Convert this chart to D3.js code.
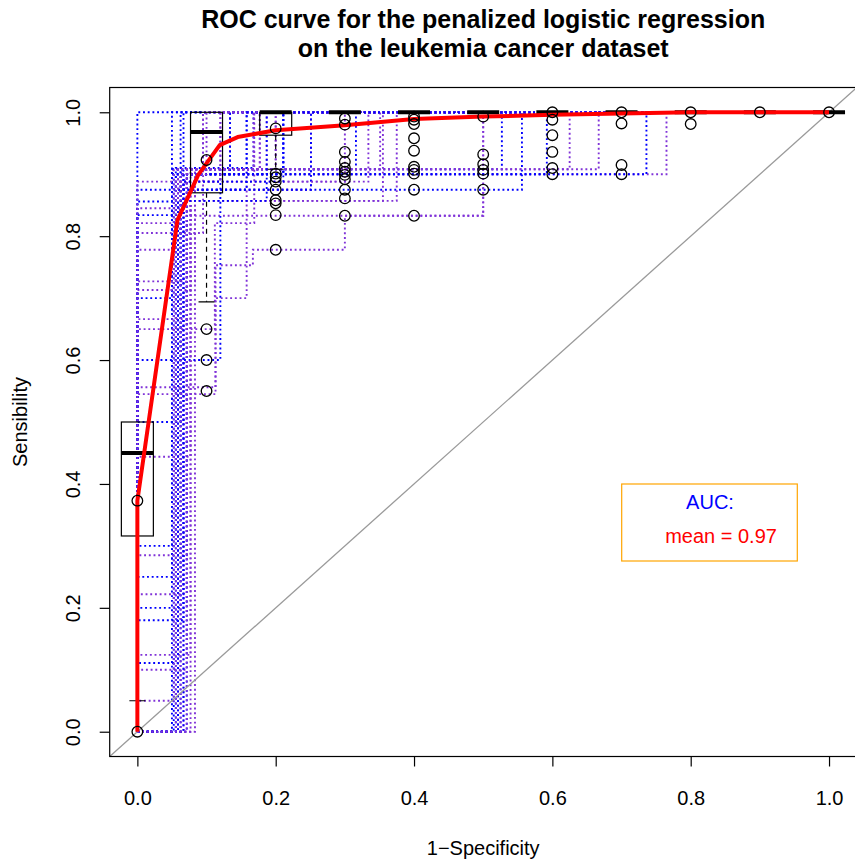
<!DOCTYPE html>
<html>
<head>
<meta charset="utf-8">
<script src="https://cdn.jsdelivr.net/npm/d3@7"></script>
<style>
  body { margin: 0; background: #fff; }
  svg { display: block; font-family: "Liberation Sans", Arial, sans-serif; }
</style>
</head>
<body>
<svg id="chart" width="855" height="862"></svg>
<script>
// individual cross-validation ROC curves: points where sensitivity rises, [fpr, sensitivity]
const curveSteps = [
  [[0, 1]],
  [[0.05, 1]],
  [[0.0833, 0.9], [0.187, 1]],
  [[0.0556, 0.91], [0.168, 1]],
  [[0, 0.1], [0.0714, 0.888], [0.334, 1]],
  [[0, 0.111], [0.0588, 0.875], [0.556, 1]],
  [[0, 0.124], [0.0769, 0.857], [0.375, 1]],
  [[0, 0.2], [0.0625, 0.908], [0.527, 1]],
  [[0, 0.222], [0.0667, 0.9], [0.765, 1]],
  [[0, 0.25], [0.05, 0.908], [0.316, 1]],
  [[0, 0.285], [0.0714, 0.833], [0.5, 1]],
  [[0, 0.3], [0.0556, 0.9], [0.211, 1]],
  [[0, 0.444], [0.0769, 0.857], [0.355, 1]],
  [[0, 0.5], [0.0625, 1]],
  [[0, 0.545], [0.113, 0.753], [0.167, 0.778], [0.3, 0.833], [0.5, 1]],
  [[0, 0.556], [0.113, 0.7], [0.158, 0.908], [0.2, 1]],
  [[0, 0.6], [0.12, 0.908], [0.134, 1]],
  [[0, 0.65], [0.112, 0.821], [0.169, 1]],
  [[0, 0.666], [0.0714, 0.908], [0.625, 1]],
  [[0, 0.7], [0.05, 0.9], [0.592, 1]],
  [[0, 0.713], [0.0769, 0.875], [0.251, 1]],
  [[0, 0.727], [0.0833, 0.908], [0.177, 1]],
  [[0, 0.778], [0.0588, 0.908], [0.667, 1]],
  [[0, 0.805], [0.095, 1]],
  [[0, 0.821], [0.0625, 0.888], [0.12, 1]],
  [[0, 0.834], [0.0667, 1]],
  [[0, 0.845], [0.0714, 0.9], [0.134, 1]],
  [[0, 0.856], [0.05, 0.908], [0.158, 1]],
  [[0, 0.875], [0.0667, 0.9], [0.736, 1]],
  [[0, 0.888], [0.0833, 0.908], [0.351, 1]],
  [[0.0588, 0.908], [0.2, 1]],
  [[0.0625, 0.875], [0.251, 1]],
  [[0.0667, 0.888], [0.3, 1]],
  [[0.0714, 0.9], [0.211, 1]],
  [[0.0769, 0.908], [0.095, 1]],
  [[0.0526, 0.9], [0.134, 1]],
  [[0.0556, 0.888], [0.12, 1]],
  [[0.0588, 0.857], [0.187, 1]],
  [[0.0625, 0.9], [0.1, 1]],
  [[0.0667, 0.875], [0.158, 1]],
  [[0.0714, 0.908], [0.177, 1]],
  [[0, 0.05], [0.0526, 0.908], [0.168, 1]],
  [[0, 0.18], [0.0667, 0.888], [0.211, 1]]
];
const curveColors = ["b","b","p","b","p","b","p","b","p","b","p","b","p","b","p","p","b","p",
                     "p","b","p","p","p","p","p","b","p","b","b","p","p","b","p","b","p",
                     "b","p","b","p","b","p","p","b"];

// vertical averaging: boxplots of sensitivity at each fpr
const boxFpr = [0, 0.1, 0.2, 0.3, 0.4, 0.5, 0.6, 0.7, 0.8, 0.9, 1.0];
const boxLow = [0.05, 0.694, 0.908, 1, 1, 1, 1, 1, 1, 1, 1];
const boxQ1  = [0.316, 0.87, 0.963, 1, 1, 1, 1, 1, 1, 1, 1];
const boxMed = [0.45, 0.968, 1, 1, 1, 1, 1, 1, 1, 1, 1];
const boxQ3  = [0.5, 1, 1, 1, 1, 1, 1, 1, 1, 1, 1];
const boxOut = [
  [0, 0.373],
  [0.923, 0.65, 0.6, 0.55],
  [0.974, 0.901, 0.895, 0.888, 0.875, 0.858, 0.853, 0.834, 0.778],
  [0.99, 0.98, 0.936, 0.92, 0.91, 0.904, 0.899, 0.892, 0.875, 0.861, 0.833],
  [0.993, 0.988, 0.981, 0.958, 0.938, 0.912, 0.907, 0.901, 0.875, 0.833],
  [0.993, 0.932, 0.916, 0.907, 0.901, 0.875],
  [1, 0.988, 0.963, 0.936, 0.91, 0.9],
  [1, 0.982, 0.915, 0.9],
  [1, 0.981],
  [1],
  [1]
];

// mean ROC curve
const meanFpr = [0, 0, 0.058, 0.088, 0.119, 0.145, 0.2, 0.3, 0.4, 0.5, 0.6, 0.7, 0.8, 0.9, 1];
const meanTpr = [0, 0.373, 0.826, 0.899, 0.947, 0.96, 0.971, 0.979, 0.989, 0.993, 0.996, 0.998, 1, 1, 1];

const axisTicks = [0, 0.2, 0.4, 0.6, 0.8, 1.0];
const titleLines = ["ROC curve for the penalized logistic regression", "on the leukemia cancer dataset"];
const aucMean = 0.97;

const svg = d3.select("#chart");
const plot = {left: 109.7, right: 856.7, top: 87.5, bottom: 756.5};
const x = d3.scaleLinear().domain([-0.04, 1.04]).range([plot.left, plot.right]);
const y = d3.scaleLinear().domain([-0.04, 1.04]).range([plot.bottom, plot.top]);
const colorOf = {b: "#0000ff", p: "#8033d8"};

svg.append("rect").attr("width", 855).attr("height", 862).attr("fill", "#fff");

svg.append("clipPath").attr("id", "clip")
  .append("rect").attr("x", plot.left).attr("y", plot.top)
  .attr("width", plot.right - plot.left).attr("height", plot.bottom - plot.top);

const g = svg.append("g").attr("clip-path", "url(#clip)");

// staircase ROC curves
const stairs = steps => {
  const pts = [[0, 0]];
  let last = 0;
  steps.forEach(([f, s]) => { pts.push([f, last]); pts.push([f, s]); last = s; });
  pts.push([1, last]);
  return pts;
};
const line = d3.line().x(d => x(d[0])).y(d => y(d[1]));

g.selectAll("path.roc")
  .data(curveSteps)
  .enter()
  .append("path")
  .classed("roc", true)
  .attr("d", d => line(stairs(d)))
  .attr("fill", "none")
  .attr("stroke", (d, i) => colorOf[curveColors[i]])
  .attr("stroke-width", 1.9)
  .attr("stroke-dasharray", "1.9,2.8");

// chance diagonal
g.append("line")
  .attr("x1", x(-0.04)).attr("y1", y(-0.04))
  .attr("x2", x(1.04)).attr("y2", y(1.04))
  .attr("stroke", "#9a9a9a").attr("stroke-width", 1.3);

// boxplots
const halfW = 16;
const boxes = g.selectAll("g.box")
  .data(boxFpr)
  .enter()
  .append("g")
  .classed("box", true);

boxes.filter((d, i) => boxLow[i] < boxQ1[i]).append("line")
  .attr("x1", d => x(d)).attr("x2", d => x(d))
  .attr("y1", d => y(boxQ1[boxFpr.indexOf(d)]))
  .attr("y2", d => y(boxLow[boxFpr.indexOf(d)]))
  .attr("stroke", "#000").attr("stroke-width", 1.2).attr("stroke-dasharray", "5,4");

boxes.filter((d, i) => boxLow[i] < boxQ1[i]).append("line")
  .attr("x1", d => x(d) - halfW / 2).attr("x2", d => x(d) + halfW / 2)
  .attr("y1", d => y(boxLow[boxFpr.indexOf(d)]))
  .attr("y2", d => y(boxLow[boxFpr.indexOf(d)]))
  .attr("stroke", "#000").attr("stroke-width", 1.2);

boxes.filter((d, i) => boxQ3[i] > boxQ1[i]).append("rect")
  .attr("x", d => x(d) - halfW)
  .attr("width", halfW * 2)
  .attr("y", d => y(boxQ3[boxFpr.indexOf(d)]))
  .attr("height", d => y(boxQ1[boxFpr.indexOf(d)]) - y(boxQ3[boxFpr.indexOf(d)]))
  .attr("fill", "none").attr("stroke", "#000").attr("stroke-width", 1.2);

boxes.append("line")
  .attr("x1", d => x(d) - halfW).attr("x2", d => x(d) + halfW)
  .attr("y1", (d, i) => y(boxMed[i]))
  .attr("y2", (d, i) => y(boxMed[i]))
  .attr("stroke", "#000").attr("stroke-width", 4);

// mean curve
g.append("path")
  .attr("d", line(meanFpr.map((f, i) => [f, meanTpr[i]])))
  .attr("fill", "none")
  .attr("stroke", "#ff0000")
  .attr("stroke-width", 4)
  .attr("stroke-linejoin", "round");

// outlier points
const outPts = boxOut.flatMap((arr, i) => arr.map(v => [boxFpr[i], v]));
g.selectAll("circle.out")
  .data(outPts)
  .enter()
  .append("circle")
  .classed("out", true)
  .attr("cx", d => x(d[0]))
  .attr("cy", d => y(d[1]))
  .attr("r", 5.3)
  .attr("fill", "none")
  .attr("stroke", "#000")
  .attr("stroke-width", 1.3);

// frame
svg.append("rect")
  .attr("x", plot.left).attr("y", plot.top)
  .attr("width", plot.right - plot.left).attr("height", plot.bottom - plot.top)
  .attr("fill", "none").attr("stroke", "#000").attr("stroke-width", 1.2);

// axes
const xAxis = svg.append("g")
  .attr("transform", `translate(0,${plot.bottom})`)
  .call(d3.axisBottom(x).tickValues(axisTicks).tickFormat(d3.format(".1f")).tickSize(10).tickPadding(24));
xAxis.select(".domain").remove();
xAxis.selectAll("text").attr("font-size", 20).attr("font-family", "Liberation Sans, Arial, sans-serif").attr("fill", "#000");
xAxis.selectAll("line").attr("stroke", "#000").attr("stroke-width", 1.2);

const yAxis = svg.append("g")
  .attr("transform", `translate(${plot.left},0)`)
  .call(d3.axisLeft(y).tickValues(axisTicks).tickFormat(d3.format(".1f")).tickSize(10));
yAxis.select(".domain").remove();
yAxis.selectAll("line").attr("stroke", "#000").attr("stroke-width", 1.2);
yAxis.selectAll("text")
  .attr("x", null).attr("dy", null)
  .attr("text-anchor", "middle")
  .attr("font-size", 20).attr("font-family", "Liberation Sans, Arial, sans-serif").attr("fill", "#000")
  .attr("transform", `translate(${80 - plot.left},0) rotate(-90)`);

// titles
svg.selectAll("text.title")
  .data(titleLines)
  .enter()
  .append("text")
  .classed("title", true)
  .attr("x", (plot.left + plot.right) / 2)
  .attr("y", (d, i) => 28 + i * 29)
  .attr("text-anchor", "middle")
  .attr("font-size", 25)
  .attr("font-weight", "bold")
  .text(d => d);

svg.append("text")
  .attr("x", (plot.left + plot.right) / 2)
  .attr("y", 855)
  .attr("text-anchor", "middle")
  .attr("font-size", 20)
  .text("1\u2212Specificity");

svg.append("text")
  .attr("transform", `translate(27,${(plot.top + plot.bottom) / 2}) rotate(-90)`)
  .attr("text-anchor", "middle")
  .attr("font-size", 20)
  .text("Sensibility");

// legend
const legend = svg.append("g");
legend.append("rect")
  .attr("x", 621.7).attr("y", 484).attr("width", 175.6).attr("height", 77)
  .attr("fill", "#fff").attr("stroke", "#ffa500").attr("stroke-width", 1.2);
legend.append("text")
  .attr("x", 710).attr("y", 509.3)
  .attr("text-anchor", "middle")
  .attr("font-size", 20)
  .attr("fill", "#0000ff")
  .text("AUC:");
legend.append("text")
  .attr("x", 721).attr("y", 543)
  .attr("text-anchor", "middle")
  .attr("font-size", 20)
  .attr("fill", "#ff0000")
  .text(`mean = ${aucMean.toFixed(2)}`);
</script>
</body>
</html>
